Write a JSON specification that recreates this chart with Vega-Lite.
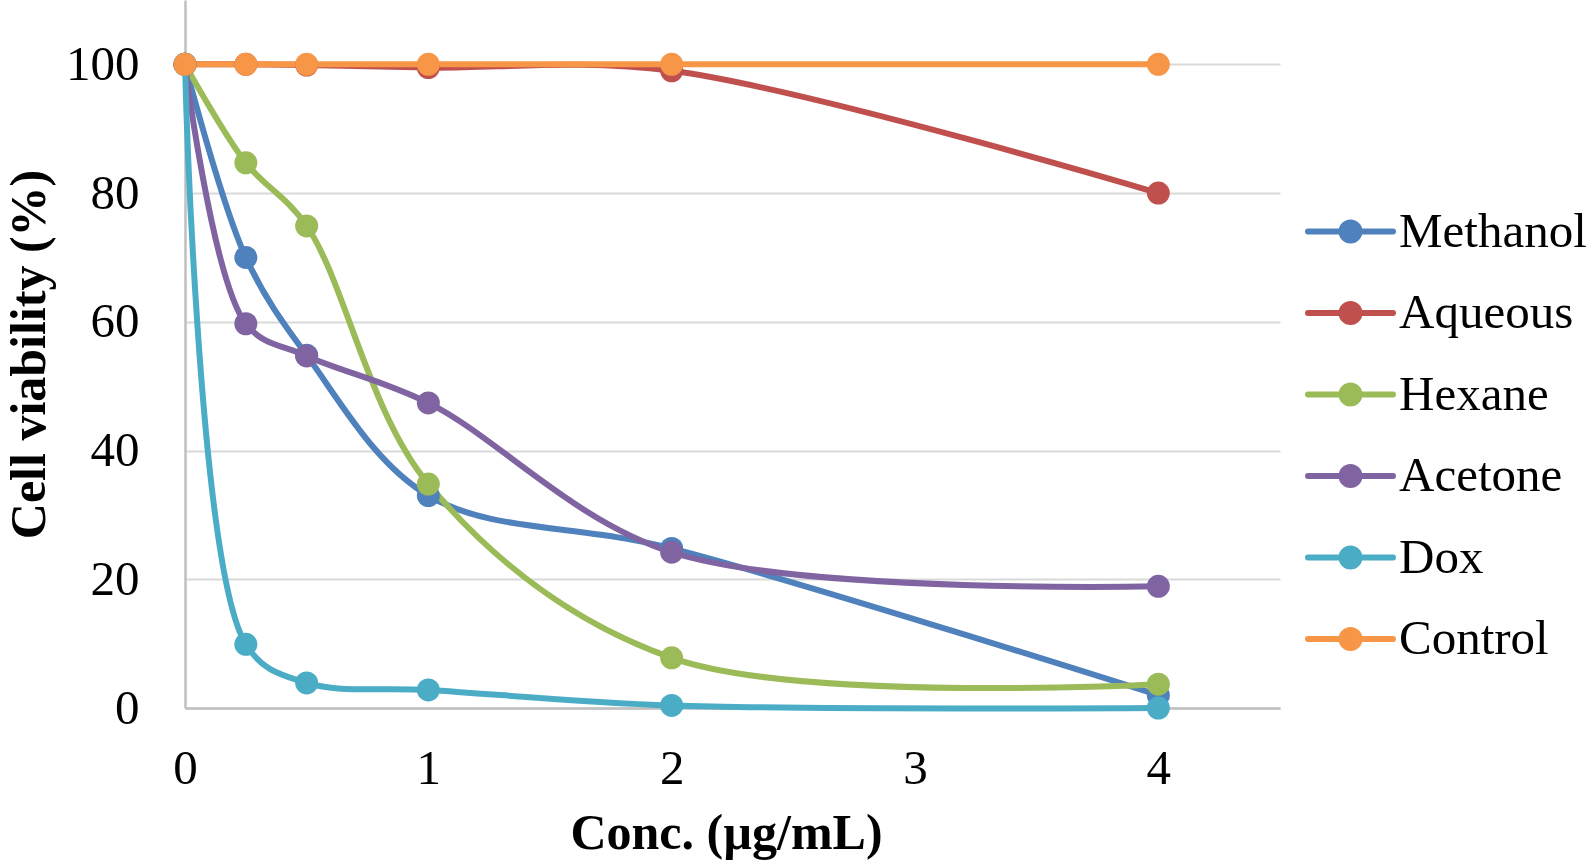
{
  "$schema": "https://vega.github.io/schema/vega-lite/v6.json",
  "width": 1095,
  "height": 708,
  "autosize": {"type": "none"},
  "padding": {"left": 185, "top": 0, "right": 314, "bottom": 158},
  "background": "white",
  "config": {"view": {"stroke": null}, "font": "Liberation Serif"},
  "data": {
    "values": [
      {"series": "Methanol", "conc": 0, "viability": 100},
      {"series": "Methanol", "conc": 0.25, "viability": 70},
      {"series": "Methanol", "conc": 0.5, "viability": 54.8},
      {"series": "Methanol", "conc": 1, "viability": 33.0},
      {"series": "Methanol", "conc": 2, "viability": 24.8},
      {"series": "Methanol", "conc": 4, "viability": 2.0},
      {"series": "Aqueous", "conc": 0, "viability": 100},
      {"series": "Aqueous", "conc": 0.25, "viability": 100},
      {"series": "Aqueous", "conc": 0.5, "viability": 99.9},
      {"series": "Aqueous", "conc": 1, "viability": 99.5},
      {"series": "Aqueous", "conc": 2, "viability": 99.0},
      {"series": "Aqueous", "conc": 4, "viability": 80},
      {"series": "Hexane", "conc": 0, "viability": 100},
      {"series": "Hexane", "conc": 0.25, "viability": 84.7},
      {"series": "Hexane", "conc": 0.5, "viability": 74.9},
      {"series": "Hexane", "conc": 1, "viability": 34.8},
      {"series": "Hexane", "conc": 2, "viability": 7.8},
      {"series": "Hexane", "conc": 4, "viability": 3.7},
      {"series": "Acetone", "conc": 0, "viability": 100},
      {"series": "Acetone", "conc": 0.25, "viability": 59.7},
      {"series": "Acetone", "conc": 0.5, "viability": 54.7},
      {"series": "Acetone", "conc": 1, "viability": 47.4},
      {"series": "Acetone", "conc": 2, "viability": 24.2},
      {"series": "Acetone", "conc": 4, "viability": 18.9},
      {"series": "Dox", "conc": 0, "viability": 100},
      {"series": "Dox", "conc": 0.25, "viability": 9.9},
      {"series": "Dox", "conc": 0.5, "viability": 3.9},
      {"series": "Dox", "conc": 1, "viability": 2.8},
      {"series": "Dox", "conc": 2, "viability": 0.4},
      {"series": "Dox", "conc": 4, "viability": 0},
      {"series": "Control", "conc": 0, "viability": 100},
      {"series": "Control", "conc": 0.25, "viability": 100},
      {"series": "Control", "conc": 0.5, "viability": 100},
      {"series": "Control", "conc": 1, "viability": 100},
      {"series": "Control", "conc": 2, "viability": 100},
      {"series": "Control", "conc": 4, "viability": 100}
    ]
  },
  "encoding": {
    "x": {
      "field": "conc",
      "type": "quantitative",
      "scale": {"domain": [0, 4.5], "nice": false, "zero": false},
      "axis": {
        "title": "Conc. (µg/mL)",
        "values": [0, 1, 2, 3, 4],
        "grid": false,
        "ticks": false,
        "domainColor": "#BFBFBF",
        "domainWidth": 2.5,
        "labelFont": "Liberation Serif",
        "labelFontSize": 49,
        "labelColor": "black",
        "labelPadding": 36,
        "labelBaseline": "top",
        "labelFlush": false,
        "titleFont": "Liberation Serif",
        "titleFontSize": 50,
        "titleFontWeight": "bold",
        "titleColor": "black",
        "titleX": 541,
        "titleY": 140,
        "titleBaseline": "alphabetic"
      }
    },
    "y": {
      "field": "viability",
      "type": "quantitative",
      "scale": {"domain": [0, 110], "nice": false},
      "axis": {
        "title": "Cell viability (%)",
        "values": [0, 20, 40, 60, 80, 100],
        "grid": true,
        "gridColor": "#D9D9D9",
        "gridWidth": 2,
        "ticks": false,
        "domainColor": "#BFBFBF",
        "domainWidth": 2.5,
        "labelFont": "Liberation Serif",
        "labelFontSize": 49,
        "labelColor": "black",
        "labelPadding": 46,
        "labelBaseline": "middle",
        "labelFlush": false,
        "titleFont": "Liberation Serif",
        "titleFontSize": 50,
        "titleFontWeight": "bold",
        "titleColor": "black",
        "titleX": -141,
        "titleBaseline": "alphabetic"
      }
    },
    "color": {
      "field": "series",
      "type": "nominal",
      "scale": {
        "domain": ["Methanol", "Aqueous", "Hexane", "Acetone", "Dox", "Control"],
        "range": ["#4F81BD", "#C0504D", "#9BBB59", "#8064A2", "#4BACC6", "#F79646"]
      },
      "legend": {
        "title": null,
        "orient": "none",
        "legendX": 1141,
        "legendY": 207,
        "padding": 0,
        "symbolType": "M-2.125,0H2.125M0.45,0A0.45,0.45,0,1,1,-0.45,0A0.45,0.45,0,1,1,0.45,0Z",
        "symbolSize": 1600,
        "symbolStrokeWidth": 6,
        "labelFont": "Liberation Serif",
        "labelFontSize": 49,
        "labelColor": "black",
        "labelLimit": 0,
        "labelOffset": 24,
        "rowPadding": 31.5,
        "encode": {
          "symbols": {
            "update": {
              "fill": {"scale": "color", "field": "value"},
              "stroke": {"scale": "color", "field": "value"},
              "strokeCap": {"value": "round"},
              "opacity": {"value": 1}
            }
          }
        }
      }
    }
  },
  "layer": [
    {"mark": {"type": "line", "interpolate": "catmull-rom", "strokeWidth": 6}},
    {"mark": {"type": "point", "filled": true, "size": 529, "opacity": 1}}
  ]
}
